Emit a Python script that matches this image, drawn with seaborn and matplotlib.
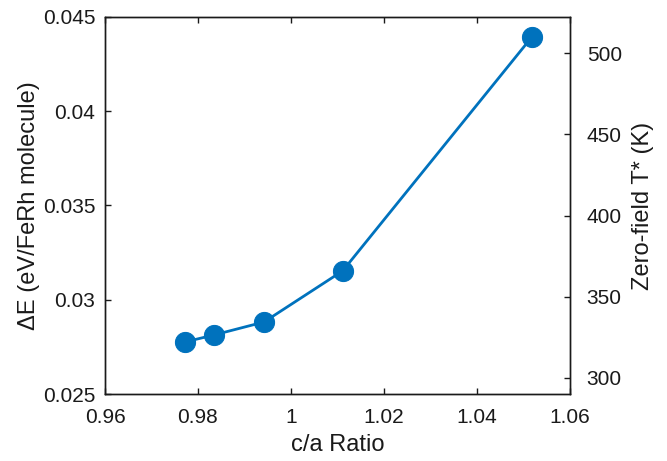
import matplotlib
matplotlib.use("Agg")
import matplotlib.pyplot as plt
import seaborn as sns
import pandas as pd

ca_ratio = [0.9772, 0.9834, 0.9942, 1.0111, 1.0518]
delta_e = [0.02776, 0.02813, 0.02882, 0.03153, 0.04394]
kB = 8.617333e-5

x_ticks = [0.96, 0.98, 1.00, 1.02, 1.04, 1.06]
x_ticklabels = ["0.96", "0.98", "1", "1.02", "1.04", "1.06"]
y_ticks = [0.025, 0.03, 0.035, 0.04, 0.045]
y_ticklabels = ["0.025", "0.03", "0.035", "0.04", "0.045"]
t_ticks = [300, 350, 400, 450, 500]

sns.set_style("ticks")
plt.rcParams['font.family'] = ['Liberation Sans', 'DejaVu Sans']

txt = "#1a1a1a"
df = pd.DataFrame({"ca": ca_ratio, "dE": delta_e})
fig = plt.figure(figsize=(6.67, 4.61), dpi=100)
ax = fig.add_axes([105/667, 1 - 394/461, (570-105)/667, (394-17)/461])
color = "#0072BD"
sns.lineplot(data=df, x="ca", y="dE", ax=ax, color=color, linewidth=2.0,
             marker="o", markersize=14.5, markeredgecolor=color, markerfacecolor=color)
ax.set_xlim(0.96, 1.06)
ax.set_ylim(0.025, 0.045)
ax.set_xticks(x_ticks)
ax.set_xticklabels(x_ticklabels)
ax.set_yticks(y_ticks)
ax.set_yticklabels(y_ticklabels)
ax.set_xlabel("c/a Ratio", fontsize=17, color=txt, labelpad=5)
ax.set_ylabel("ΔE (eV/FeRh molecule)", fontsize=17, color=txt, labelpad=2)
ax.tick_params(axis="both", direction="in", labelsize=15, length=4, width=1, top=True,
               color=txt, labelcolor=txt)
ax.tick_params(axis="x", pad=10)
ax.tick_params(axis="y", pad=7)
for s in ax.spines.values():
    s.set_linewidth(1)
    s.set_color(txt)

ax2 = ax.twinx()
ax2.set_ylim(0.025 / kB, 0.045 / kB)
ax2.set_yticks(t_ticks)
ax2.set_ylabel("Zero-field T* (K)", fontsize=17, color=txt, labelpad=7)
ax2.tick_params(axis="y", direction="in", labelsize=15, length=4, width=1, pad=12,
                color=txt, labelcolor=txt)
for s in ax2.spines.values():
    s.set_linewidth(1)
    s.set_color(txt)

fig.savefig("out.png", dpi=100)
